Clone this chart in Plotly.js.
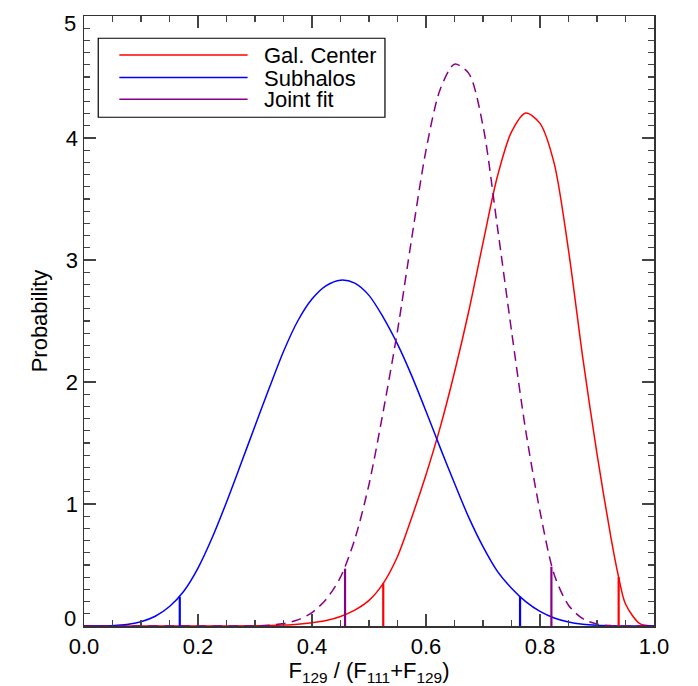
<!DOCTYPE html>
<html>
<head>
<meta charset="utf-8">
<script src="https://cdn.plot.ly/plotly-3.0.1.min.js"></script>
<style>html,body{margin:0;padding:0;background:#fff;}</style>
</head>
<body>
<div id="chart" style="width:698px;height:686px;"></div>
<script>
// Series names
const seriesNames = ["Gal. Center", "Subhalos", "Joint fit"];
const seriesColors = ["#ff0000", "#0000ff", "#880088"];

// Gal. Center (red)
const galX = [0, 0.25, 0.3, 0.325, 0.35, 0.375, 0.4, 0.425, 0.45, 0.475, 0.5, 0.525, 0.55, 0.575, 0.6, 0.625, 0.65, 0.675, 0.7, 0.725, 0.75, 0.775, 0.8, 0.825, 0.85, 0.875, 0.9, 0.925, 0.9375, 0.95, 0.975, 1.0];
const galY = [0, 0.0005, 0.002, 0.004, 0.008, 0.015, 0.027, 0.045, 0.078, 0.13, 0.21, 0.35, 0.57, 0.89, 1.24, 1.63, 2.08, 2.58, 3.14, 3.68, 4.05, 4.205, 4.12, 3.79, 3.08, 2.20, 1.41, 0.71, 0.41, 0.18, 0.02, 0];

// Subhalos (blue)
const subX = [0, 0.025, 0.05, 0.075, 0.1, 0.125, 0.15, 0.175, 0.2, 0.225, 0.25, 0.275, 0.3, 0.325, 0.35, 0.375, 0.4, 0.425, 0.45, 0.475, 0.5, 0.525, 0.55, 0.575, 0.6, 0.625, 0.65, 0.675, 0.7, 0.725, 0.75, 0.775, 0.8, 0.825, 0.85, 0.875, 0.9, 0.925, 0.95, 1.0];
const subY = [0, 0.0003, 0.003, 0.012, 0.035, 0.08, 0.16, 0.285, 0.475, 0.725, 1.015, 1.325, 1.64, 1.95, 2.25, 2.50, 2.68, 2.79, 2.835, 2.81, 2.71, 2.53, 2.31, 2.05, 1.76, 1.46, 1.17, 0.89, 0.65, 0.45, 0.31, 0.20, 0.12, 0.066, 0.033, 0.015, 0.006, 0.002, 0.0005, 0];

// Joint fit (purple, dashed)
const jointX = [0, 0.275, 0.3, 0.325, 0.35, 0.375, 0.4, 0.425, 0.45, 0.475, 0.5, 0.525, 0.55, 0.575, 0.6, 0.625, 0.65, 0.675, 0.7, 0.725, 0.75, 0.775, 0.8, 0.825, 0.85, 0.875, 0.9, 0.925, 0.95, 1.0];
const jointY = [0, 0.0003, 0.001, 0.006, 0.02, 0.05, 0.11, 0.22, 0.40, 0.71, 1.16, 1.76, 2.42, 3.18, 3.90, 4.40, 4.605, 4.53, 4.10, 3.28, 2.42, 1.60, 0.94, 0.42, 0.17, 0.06, 0.016, 0.003, 0.0005, 0];

// Interval markers (vertical lines): positions and heights
const galCI = [0.525, 0.938];
const galCIh = [0.35, 0.40];
const subCI = [0.168, 0.765];
const subCIh = [0.24, 0.24];
const jointCI = [0.458, 0.82];
const jointCIh = [0.47, 0.486];

// Tick labels
const xTickVals = [0, 0.2, 0.4, 0.6, 0.8, 1.0];
const xTickText = ["0.0", "0.2", "0.4", "0.6", "0.8", "1.0"];
const yTickVals = [0, 1, 2, 3, 4, 5];
const yTickText = ["0", "1", "2", "3", "4", "5"];

const FONT = "Liberation Sans, Arial, Helvetica, sans-serif";

const traces = [];
function curve(x, y, color, dash) {
  traces.push({x: x, y: y, mode: "lines", type: "scatter",
    line: {color: color, width: 1.5, shape: "spline", smoothing: 0.8, dash: dash || "solid"},
    showlegend: false, hoverinfo: "skip"});
}
function vlines(xs, hs, color) {
  xs.forEach((xv, i) => {
    traces.push({x: [xv, xv], y: [0, hs[i]], mode: "lines", type: "scatter",
      line: {color: color, width: 2.2}, showlegend: false, hoverinfo: "skip"});
  });
}
curve(galX, galY, seriesColors[0]);
curve(subX, subY, seriesColors[1]);
curve(jointX, jointY, seriesColors[2], "10px,6px");
vlines(galCI, galCIh, seriesColors[0]);
vlines(subCI, subCIh, seriesColors[1]);
vlines(jointCI, jointCIh, seriesColors[2]);

// Manual legend (box, sample lines, labels)
const legRows = [0.936, 0.899, 0.8634];
const shapes = [{type: "rect", xref: "paper", yref: "paper", x0: 0.025, x1: 0.528, y0: 0.834, y1: 0.9635,
  line: {color: "#000", width: 1.2}, fillcolor: "rgba(255,255,255,0)"}];
const annotations = [];
seriesNames.forEach((name, i) => {
  shapes.push({type: "line", xref: "paper", yref: "paper", x0: 0.062, x1: 0.287, y0: legRows[i], y1: legRows[i],
    line: {color: seriesColors[i], width: 1.5}});
  annotations.push({xref: "paper", yref: "paper", x: 0.3117, y: legRows[i], text: name, showarrow: false,
    xanchor: "left", yanchor: "middle", height: 20, font: {family: FONT, size: 22, color: "#000"}});
});

// End labels of y axis drawn shifted inward (as in the reference)
const yLabelsShown = yTickText.map((t, i) => (i === 0 || i === yTickText.length - 1) ? "" : t);
annotations.push({xref: "paper", yref: "y", x: 0, y: yTickVals[0], text: yTickText[0], showarrow: false,
  xanchor: "right", yanchor: "middle", xshift: -6, yshift: 8, font: {family: FONT, size: 22, color: "#000"}});
annotations.push({xref: "paper", yref: "y", x: 0, y: yTickVals[yTickVals.length - 1], text: yTickText[yTickText.length - 1], showarrow: false,
  xanchor: "right", yanchor: "middle", xshift: -6, yshift: -7, font: {family: FONT, size: 22, color: "#000"}});

const axisCommon = {
  showgrid: false, zeroline: false, showline: true, linecolor: "#333", linewidth: 1.5,
  mirror: "allticks", ticks: "inside", ticklen: 12, tickwidth: 1.2, tickcolor: "#444",
  tickfont: {family: FONT, size: 22, color: "#000"}
};

const layout = {
  width: 698, height: 686,
  margin: {l: 84, r: 44, t: 16, b: 60},
  paper_bgcolor: "#fff", plot_bgcolor: "#fff",
  showlegend: false,
  xaxis: Object.assign({}, axisCommon, {
    range: [0, 1], tickvals: xTickVals, ticktext: xTickText,
    minor: {dtick: 0.05, tick0: 0, ticks: "inside", ticklen: 6, tickwidth: 1.2, tickcolor: "#444"},
    title: {text: "F<sub>129</sub> / (F<sub>111</sub>+F<sub>129</sub>)", font: {family: FONT, size: 22, color: "#000"}, standoff: 10}
  }),
  yaxis: Object.assign({}, axisCommon, {
    range: [0, 5], tickvals: yTickVals, ticktext: yLabelsShown,
    minor: {dtick: 0.1, tick0: 0, ticks: "inside", ticklen: 6, tickwidth: 1.2, tickcolor: "#444"},
    title: {text: "Probability", font: {family: FONT, size: 22, color: "#000"}, standoff: 12}
  }),
  shapes: shapes,
  annotations: annotations
};

Plotly.newPlot("chart", traces, layout, {displayModeBar: false, staticPlot: true});
</script>
</body>
</html>
